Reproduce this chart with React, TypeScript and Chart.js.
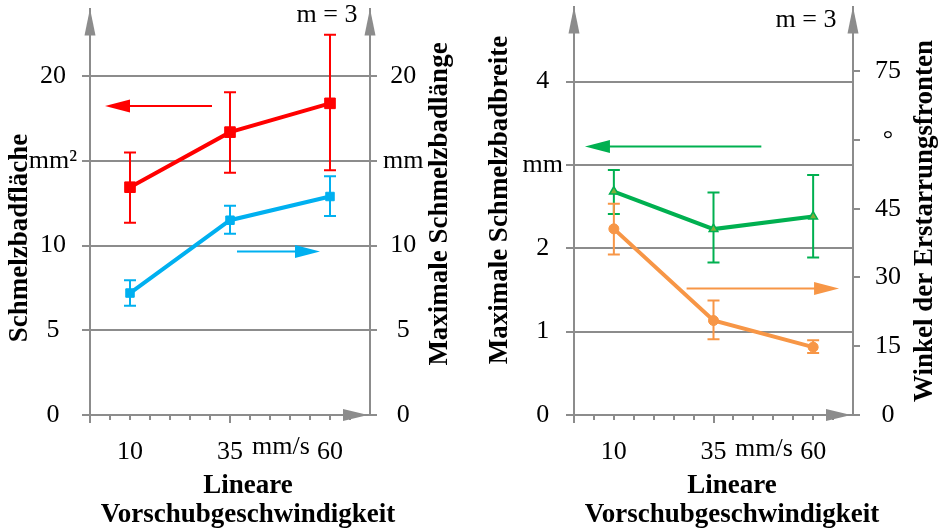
import React, { useEffect, useRef } from 'react';
import { Chart, registerables } from 'chart.js';

Chart.register(...registerables);

const FONT = "'Liberation Serif', 'Times New Roman', serif";
const GRAY = '#8c8c8c';

// ---------- data ----------
const speeds = [10, 35, 60];
const xTickValues = [10, 35, 60];
const xMinorTicks = [0, 5, 10, 15, 20, 25, 30, 35, 40, 45, 50, 55, 60, 65];
const xMajorTicks = [0, 35];

// left panel
const areaMean = [13.45, 16.7, 18.4];
const areaLow = [11.35, 14.3, 14.45];
const areaHigh = [15.5, 19.05, 22.45];
const lengthMean = [7.2, 11.5, 12.9];
const lengthLow = [6.45, 10.7, 11.75];
const lengthHigh = [7.95, 12.35, 14.1];
const areaAxisTicks = [0, 5, 10, 15, 20];
const areaAxisLabels = ['0', '5', '10', 'mm²', '20'];
const lengthAxisTicks = [0, 5, 10, 15, 20];
const lengthAxisLabels = ['0', '5', '10', 'mm', '20'];

// right panel
const widthMean = [2.68, 2.23, 2.38];
const widthLow = [2.41, 1.83, 1.89];
const widthHigh = [2.94, 2.67, 2.88];
const angleMean = [40.6, 20.6, 14.8];
const angleLow = [35.0, 16.5, 13.5];
const angleHigh = [46.1, 25.0, 16.3];
const widthAxisTicks = [0, 1, 2, 3, 4];
const widthAxisLabels = ['0', '1', '2', 'mm', '4'];
const angleAxisTicks = [0, 15, 30, 45, 60, 75];
const angleAxisLabels = ['0', '15', '30', '45', '°', '75'];

// ---------- plugins ----------
const errorBarPlugin = {
  id: 'errorBars',
  beforeDatasetsDraw(chart: any) {
    const ctx = chart.ctx;
    chart.data.datasets.forEach((ds: any, i: number) => {
      const meta = chart.getDatasetMeta(i);
      const xs = chart.scales[meta.xAxisID];
      const ys = chart.scales[meta.yAxisID];
      ctx.save();
      ctx.strokeStyle = ds.borderColor;
      ctx.lineWidth = 2;
      ds.data.forEach((pt: any, j: number) => {
        const x = xs.getPixelForValue(pt.x);
        const yl = ys.getPixelForValue(ds.errLow[j]);
        const yh = ys.getPixelForValue(ds.errHigh[j]);
        ctx.beginPath();
        ctx.moveTo(x, yl);
        ctx.lineTo(x, yh);
        ctx.moveTo(x - 6, yl);
        ctx.lineTo(x + 6, yl);
        ctx.moveTo(x - 6, yh);
        ctx.lineTo(x + 6, yh);
        ctx.stroke();
      });
      ctx.restore();
    });
  },
};

function arrowHead(ctx: any, tipX: number, tipY: number, dx: number, dy: number, len: number, half: number, color: string) {
  const bx = tipX - dx * len;
  const by = tipY - dy * len;
  const px = -dy;
  const py = dx;
  ctx.beginPath();
  ctx.moveTo(tipX, tipY);
  ctx.lineTo(bx + px * half, by + py * half);
  ctx.lineTo(bx - px * half, by - py * half);
  ctx.closePath();
  ctx.fillStyle = color;
  ctx.fill();
}

function makeDecor(spec: any) {
  return {
    id: 'decor',
    afterDraw(chart: any) {
      const ctx = chart.ctx;
      const a = chart.chartArea;
      const xs = chart.scales.x;
      ctx.save();
      // x minor ticks
      ctx.strokeStyle = GRAY;
      ctx.lineWidth = 2;
      xMinorTicks.forEach((v) => {
        const px = Math.round(xs.getPixelForValue(v));
        const len = xMajorTicks.includes(v) ? 8 : 5;
        ctx.beginPath();
        ctx.moveTo(px, a.bottom);
        ctx.lineTo(px, a.bottom + len);
        ctx.stroke();
      });
      // axis arrows
      arrowHead(ctx, a.left, a.top, 0, -1, 27, 5.5, GRAY);
      arrowHead(ctx, a.right, a.top, 0, -1, 27, 5.5, GRAY);
      arrowHead(ctx, a.right - 2, a.bottom, 1, 0, 25, 6, GRAY);
      // annotation arrows
      spec.arrows.forEach((ar: any) => {
        const ys = chart.scales[ar.axis];
        const x0 = xs.getPixelForValue(ar.from);
        const x1 = xs.getPixelForValue(ar.to);
        const y = ys.getPixelForValue(ar.y);
        const dir = x1 > x0 ? 1 : -1;
        ctx.strokeStyle = ar.color;
        ctx.lineWidth = 2;
        ctx.beginPath();
        ctx.moveTo(x0, y);
        ctx.lineTo(x1 - dir * 10, y);
        ctx.stroke();
        arrowHead(ctx, x1, y, dir, 0, 25, 6.5, ar.color);
      });
      // texts
      ctx.fillStyle = '#000';
      ctx.textBaseline = 'alphabetic';
      ctx.textAlign = 'center';
      ctx.font = `26px ${FONT}`;
      ctx.fillText('m = 3', spec.mPos[0], spec.mPos[1]);
      ctx.fillText('mm/s', spec.unitPos[0], spec.unitPos[1]);
      ctx.font = `bold 27px ${FONT}`;
      ctx.fillText('Lineare', spec.xTitleX, 493);
      ctx.fillText('Vorschubgeschwindigkeit', spec.xTitleX, 522);
      const rot = (text: string, bx: number, cy: number) => {
        ctx.save();
        ctx.translate(bx, cy);
        ctx.rotate(-Math.PI / 2);
        ctx.fillText(text, 0, 0);
        ctx.restore();
      };
      rot(spec.yTitle, spec.yTitlePos[0], spec.yTitlePos[1]);
      rot(spec.y1Title, spec.y1TitlePos[0], spec.y1TitlePos[1]);
      ctx.restore();
    },
  };
}

function makeConfig(spec: any): any {
  const tickFont = { family: FONT, size: 26 };
  return {
    type: 'line',
    data: {
      datasets: spec.series.map((s: any) => ({
        label: s.label,
        data: speeds.map((x, i) => ({ x, y: s.mean[i] })),
        errLow: s.low,
        errHigh: s.high,
        yAxisID: s.axis,
        borderColor: s.color,
        backgroundColor: s.fill,
        pointBorderColor: s.color,
        pointBackgroundColor: s.fill,
        pointBorderWidth: s.pointBorder,
        borderWidth: 4,
        pointStyle: s.pointStyle,
        pointRadius: s.radius,
        tension: 0,
        fill: false,
      })),
    },
    options: {
      responsive: false,
      animation: false,
      layout: { padding: { top: 5, left: 0, right: 0, bottom: 0 } },
      plugins: { legend: { display: false }, tooltip: { enabled: false } },
      scales: {
        x: {
          type: 'linear',
          min: 0,
          max: 70,
          afterBuildTicks: (s: any) => {
            s.ticks = xTickValues.map((v) => ({ value: v }));
          },
          afterFit: (s: any) => {
            s.height = 113;
            s.paddingLeft = 0;
            s.paddingRight = 0;
          },
          grid: { display: false, drawTicks: false },
          border: { display: true, color: GRAY, width: 2 },
          ticks: {
            font: tickFont,
            color: '#000',
            padding: 22,
            maxRotation: 0,
            autoSkip: false,
            callback: (v: any) => String(v),
          },
        },
        y: {
          type: 'linear',
          position: 'left',
          min: 0,
          max: spec.yMax,
          afterBuildTicks: (s: any) => {
            s.ticks = spec.yTicks.map((v: number) => ({ value: v }));
          },
          afterFit: (s: any) => {
            s.width = spec.yWidth;
            s.paddingTop = 0;
            s.paddingBottom = 0;
          },
          grid: { color: GRAY, lineWidth: 2, tickLength: 8 },
          border: { display: true, color: GRAY, width: 2 },
          ticks: {
            font: tickFont,
            color: '#000',
            padding: spec.yPad,
            crossAlign: 'center',
            autoSkip: false,
            callback: (_v: any, i: number) => spec.yLabels[i],
          },
        },
        y1: {
          type: 'linear',
          position: 'right',
          min: 0,
          max: spec.y1Max,
          afterBuildTicks: (s: any) => {
            s.ticks = spec.y1Ticks.map((v: number) => ({ value: v }));
          },
          afterFit: (s: any) => {
            s.width = spec.y1Width;
            s.paddingTop = 0;
            s.paddingBottom = 0;
          },
          grid: { drawOnChartArea: false, color: GRAY, lineWidth: 2, tickLength: 7 },
          border: { display: true, color: GRAY, width: 2 },
          ticks: {
            font: tickFont,
            color: '#000',
            padding: spec.y1Pad,
            crossAlign: 'center',
            autoSkip: false,
            callback: (_v: any, i: number) => spec.y1Labels[i],
          },
        },
      },
    },
    plugins: [errorBarPlugin, makeDecor(spec)],
  };
}

const leftSpec = {
  yMax: 24,
  y1Max: 24,
  yTicks: areaAxisTicks,
  yLabels: areaAxisLabels,
  y1Ticks: lengthAxisTicks,
  y1Labels: lengthAxisLabels,
  yWidth: 90,
  y1Width: 100,
  yPad: 5,
  y1Pad: 6,
  series: [
    { label: 'Schmelzbadfläche', mean: areaMean, low: areaLow, high: areaHigh, axis: 'y', color: '#ff0000', fill: '#ff0000', pointStyle: 'rect', radius: 7.5, pointBorder: 1 },
    { label: 'Maximale Schmelzbadlänge', mean: lengthMean, low: lengthLow, high: lengthHigh, axis: 'y1', color: '#00b0f0', fill: '#00b0f0', pointStyle: 'rect', radius: 6, pointBorder: 1 },
  ],
  arrows: [
    { axis: 'y', from: 30.5, to: 3.75, y: 18.25, color: '#ff0000' },
    { axis: 'y1', from: 36.75, to: 57.5, y: 9.65, color: '#00b0f0' },
  ],
  yTitle: 'Schmelzbadfläche',
  y1Title: 'Maximale Schmelzbadlänge',
  yTitlePos: [27, 238],
  y1TitlePos: [447, 204],
  xTitleX: 248,
  mPos: [327, 22],
  unitPos: [281, 454],
};

const rightSpec = {
  yMax: 4.9,
  y1Max: 89.1,
  yTicks: widthAxisTicks,
  yLabels: widthAxisLabels,
  y1Ticks: angleAxisTicks,
  y1Labels: angleAxisLabels,
  yWidth: 104,
  y1Width: 86,
  yPad: 3,
  y1Pad: 15,
  series: [
    { label: 'Maximale Schmelzbadbreite', mean: widthMean, low: widthLow, high: widthHigh, axis: 'y', color: '#00b050', fill: '#7fae3c', pointStyle: 'triangle', radius: 5, pointBorder: 1.5 },
    { label: 'Winkel der Erstarrungsfronten', mean: angleMean, low: angleLow, high: angleHigh, axis: 'y1', color: '#f79646', fill: '#f79646', pointStyle: 'circle', radius: 5, pointBorder: 1 },
  ],
  arrows: [
    { axis: 'y', from: 47, to: 2.75, y: 3.22, color: '#00b050' },
    { axis: 'y1', from: 28.25, to: 66.5, y: 27.6, color: '#f79646' },
  ],
  yTitle: 'Maximale Schmelzbadbreite',
  y1Title: 'Winkel der Erstarrungsfronten',
  yTitlePos: [37, 200],
  y1TitlePos: [462, 221],
  xTitleX: 262,
  mPos: [336, 27],
  unitPos: [294, 456],
};

function Panel({ spec, left, width }: { spec: any; left: number; width: number }) {
  const ref = useRef<HTMLCanvasElement | null>(null);
  useEffect(() => {
    if (!ref.current) return;
    const chart = new Chart(ref.current, makeConfig(spec));
    return () => chart.destroy();
  }, [spec]);
  return (
    <canvas
      ref={ref}
      width={width}
      height={528}
      style={{ position: 'absolute', left, top: 0, width, height: 528 }}
    />
  );
}

export default function App() {
  return (
    <div style={{ position: 'fixed', left: 0, top: 0, width: 939, height: 528, background: '#fff' }}>
      <Panel spec={leftSpec} left={0} width={470} />
      <Panel spec={rightSpec} left={470} width={469} />
    </div>
  );
}
